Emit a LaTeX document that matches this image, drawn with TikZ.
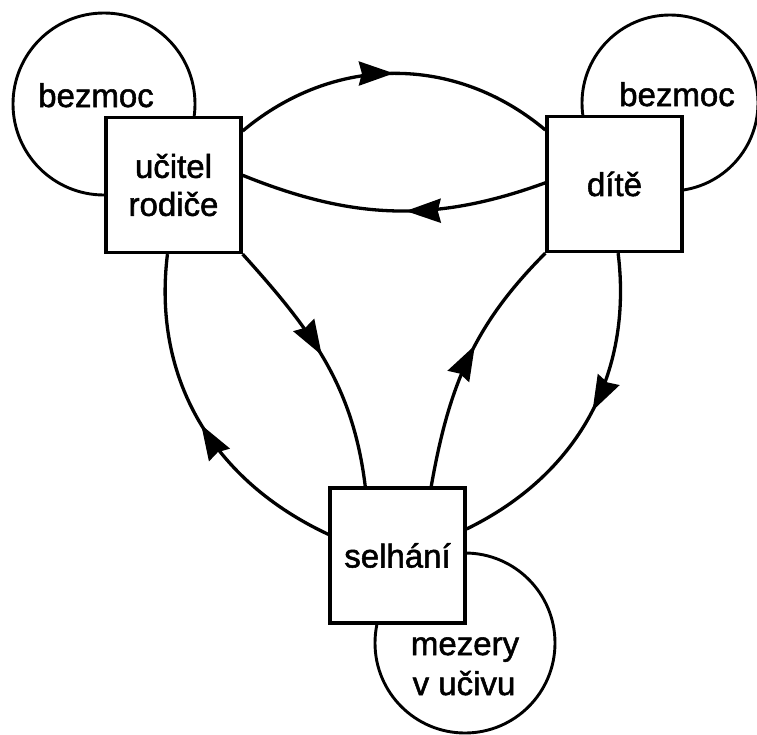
\documentclass[tikz,border=0pt]{standalone}
\usepackage{fontspec}
\setmainfont{Liberation Sans}[FakeBold=1.6]
\usetikzlibrary{arrows.meta,decorations.markings}
\tikzset{
  box/.style={draw, line width=3.3pt, fill=white, minimum width=135pt, minimum height=135pt,
    inner sep=0pt, align=center, font=\fontsize{33}{38}\selectfont},
  loopc/.style={draw, circle, line width=2.9pt, inner sep=0pt},
  lbl/.style={font=\fontsize{33}{38}\selectfont, anchor=base, inner sep=0pt},
  flow/.style={line width=3.3pt, postaction={decorate},
    decoration={markings, mark=at position #1 with {\arrow{Stealth[length=35pt,width=24pt,inset=3pt]}}}},
}
\begin{document}
\begin{tikzpicture}[x=1pt,y=1pt]
\useasboundingbox (0,0) rectangle (757,-734);
% loops
\node[loopc, minimum size=182pt] (c1) at (104,-104) {};
\node[loopc, minimum size=176pt] (c2) at (670,-103) {};
\node[loopc, minimum size=180pt] (c3) at (465,-643) {};
% labels in loops
\node[lbl] (t1) at (96,-107) {bezmoc};
\node[lbl] (t2) at (677,-106) {bezmoc};
\node[lbl] (t3) at (465,-655) {mezery};
\node[lbl] (t4) at (464,-695) {v učivu};
% boxes
\node[box] (b1) at (173.5,-185) {učitel\\rodiče};
\node[box] (b2) at (614.5,-184) {dítě};
\node[box] (b3) at (397.5,-555.5) {selhání};
% connectors
\draw[flow=0.5]  (b1.38) to[out=40,in=140] (b2.142);
\draw[flow=0.46] (b2.179) to[out=200,in=-22] (b1.8);
\draw[flow=0.48] (b1.south east) to[out=-48,in=97] (b3.115);
\draw[flow=0.49] (b3.163) to[out=155,in=-97] (b1.265);
\draw[flow=0.56] (b3.64) to[out=80,in=225] (b2.south west);
\draw[flow=0.48] (b2.273) to[out=-83,in=26] (b3.21);
\end{tikzpicture}
\end{document}
